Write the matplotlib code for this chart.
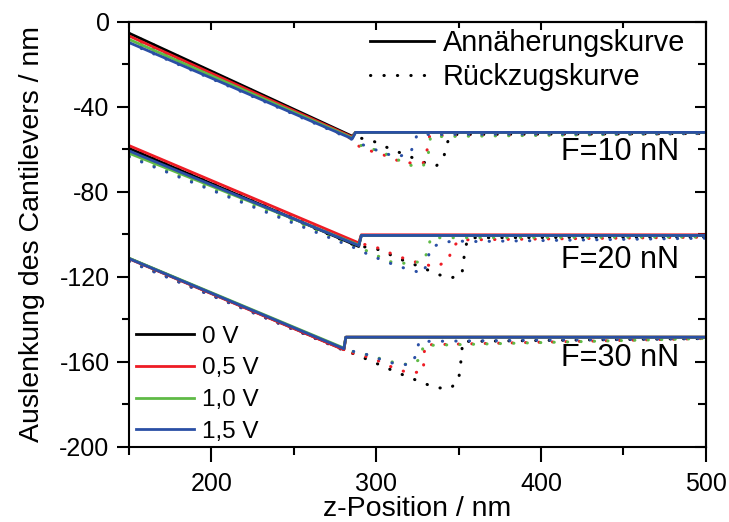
import numpy as np
import matplotlib
matplotlib.use("Agg")
import matplotlib.pyplot as plt
from matplotlib.lines import Line2D
from matplotlib.ticker import MultipleLocator

plt.rcParams['font.family'] = ['Liberation Sans', 'DejaVu Sans']
plt.rcParams['axes.unicode_minus'] = False

voltages = ['0 V', '0,5 V', '1,0 V', '1,5 V']
colors = ['#000000', '#ee1c25', '#5fba46', '#2a4fa5']
forces = ['F=10 nN', 'F=20 nN', 'F=30 nN']

# --- approach curves (Annäherung), one x grid per force
app10_x = [150, 285.5, 287.5, 500]
app10_y = [[-5.3, -53.8, -52.0, -52.0],
           [-6.6, -54.2, -52.0, -52.0],
           [-8.2, -54.6, -52.0, -52.0],
           [-9.7, -55.0, -52.0, -52.0]]

app20_x = [150, 289.4, 291, 500]
app20_y = [[-59.5, -105.7, -100.5, -100.5],
           [-58.2, -104.0, -100.2, -100.2],
           [-61.8, -105.0, -100.5, -100.5],
           [-60.7, -105.3, -100.5, -100.5]]

app30_x = [150, 280.4, 281.6, 500]
app30_y = [[-111.3, -154.2, -148.4, -148.4],
           [-111.5, -154.3, -148.4, -148.4],
           [-111.2, -153.5, -148.4, -148.4],
           [-111.4, -153.8, -148.4, -148.4]]

# --- retract curves (Rückzug)
ret10_x = [[150, 285, 296.6, 304.5, 312, 320.8, 328.6, 336.5, 341, 342.5, 345.5, 500],
           [150, 285, 288, 296.6, 304.5, 312, 320.8, 328.6, 331, 332.5, 500],
           [150, 285, 288, 296.6, 304.5, 312, 320.8, 328.6, 331.7, 333, 500],
           [150, 285, 288, 296.6, 304.5, 312, 320.8, 323.3, 325, 500]]
ret10_y = [[-5.5, -54.0, -55.5, -58.4, -60.8, -63.5, -66.0, -67.8, -64.0, -58.0, -53.0, -52.5],
           [-7.0, -55.0, -58.0, -60.7, -62.6, -65.0, -66.4, -66.4, -60.0, -53.5, -52.5],
           [-8.5, -55.0, -57.5, -59.5, -61.6, -64.5, -67.5, -67.8, -61.8, -54.0, -52.5],
           [-10.0, -55.2, -56.6, -59.3, -61.6, -63.5, -62.0, -56.0, -53.0, -52.5]]

ret20_x = [[150, 289, 296.6, 304.5, 312, 320.8, 328.6, 336.5, 345, 352, 353, 354, 356, 500],
           [150, 289, 296.6, 304.5, 312, 320.8, 328.6, 336.5, 344, 346, 351.5, 500],
           [150, 289, 296.6, 304.5, 312, 328.6, 331.7, 333, 500],
           [150, 289, 296.6, 304.5, 312, 320.8, 328.6, 331, 332.8, 339.5, 348, 356, 500]]
ret20_y = [[-60.0, -105.8, -106.0, -108.0, -110.9, -113.5, -115.8, -118.6, -120.6, -119.0, -113.0, -106.5, -101.6, -101.2],
           [-58.8, -104.5, -105.0, -107.5, -110.0, -112.3, -114.0, -115.3, -112.0, -106.0, -102.6, -101.3],
           [-63.0, -106.0, -108.5, -111.5, -113.9, -112.8, -107.0, -101.6, -101.2],
           [-63.5, -107.0, -110.0, -112.3, -114.7, -116.7, -118.4, -113.0, -106.5, -104.0, -103.0, -103.4, -101.8]]

ret30_x = [[150, 280, 288, 296.6, 304.5, 312, 320.8, 328.6, 336.5, 345, 350, 351, 352, 352.3, 500],
           [150, 280, 288, 296.6, 304.5, 312, 320.8, 328.6, 329, 329.5, 500],
           [150, 280, 288, 296.6, 304.5, 312, 320.8, 327, 328.6, 500],
           [150, 280, 288, 296.6, 304.5, 312, 320.8, 324.4, 326, 500]]
ret30_y = [[-112.5, -154.4, -156.7, -159.5, -162.2, -164.8, -167.5, -170.0, -172.2, -172.5, -168.8, -162.4, -156.3, -150.4, -149.0],
           [-112.5, -154.4, -156.5, -158.0, -160.6, -163.4, -165.3, -164.5, -158.6, -152.0, -149.0],
           [-112.3, -154.0, -155.5, -157.0, -159.0, -160.5, -161.4, -158.6, -152.3, -149.0],
           [-112.8, -154.4, -155.3, -157.0, -159.4, -161.0, -161.4, -156.7, -150.4, -149.0]]

label_x = [484, 484, 484]
label_y = [-61, -112, -158]

fig, ax = plt.subplots(figsize=(7.29, 5.22), dpi=100)
fig.subplots_adjust(left=0.177, right=0.968, bottom=0.144, top=0.958)

dots = (0, (0.1, 4.3))
for rx, ry in [(ret10_x, ret10_y), (ret20_x, ret20_y), (ret30_x, ret30_y)]:
    for i in range(4):
        ax.plot(rx[i], ry[i], color=colors[i], lw=2.2, linestyle=dots,
                dash_capstyle='round')
for axx, ayy in [(app10_x, app10_y), (app20_x, app20_y), (app30_x, app30_y)]:
    for i in range(4):
        ax.plot(axx, ayy[i], color=colors[i], lw=2.0)

for k in range(3):
    ax.text(label_x[k], label_y[k], forces[k], ha='right', va='center', fontsize=22)

ax.set_xlim(150, 500)
ax.set_ylim(-200, 0)
ax.xaxis.set_major_locator(MultipleLocator(100))
ax.xaxis.set_minor_locator(MultipleLocator(50))
ax.yaxis.set_major_locator(MultipleLocator(40))
ax.yaxis.set_minor_locator(MultipleLocator(20))
ax.tick_params(which='both', direction='out', width=1.5, labelsize=18)
ax.tick_params(axis='x', which='major', length=11, pad=7)
ax.tick_params(axis='x', which='minor', length=6)
ax.tick_params(axis='y', which='major', length=9, pad=5)
ax.tick_params(axis='y', which='minor', length=5)
for s in ax.spines.values():
    s.set_linewidth(1.5)

# inward ticks on the opposite sides
top = ax.secondary_xaxis('top')
top.xaxis.set_major_locator(MultipleLocator(100))
top.xaxis.set_minor_locator(MultipleLocator(50))
top.tick_params(which='both', direction='in', labeltop=False, width=1.5)
top.tick_params(which='major', length=6)
top.tick_params(which='minor', length=4)
right = ax.secondary_yaxis('right')
right.yaxis.set_major_locator(MultipleLocator(40))
right.yaxis.set_minor_locator(MultipleLocator(20))
right.tick_params(which='both', direction='in', labelright=False, width=1.5)
right.tick_params(which='major', length=8)
right.tick_params(which='minor', length=6)
for sec in (top, right):
    for s in sec.spines.values():
        s.set_linewidth(1.5)

ax.set_xlabel('z-Position / nm', fontsize=20.5, labelpad=0)
ax.set_ylabel('Auslenkung des Cantilevers / nm', fontsize=20.5, labelpad=10)

style_handles = [Line2D([], [], color='k', lw=2.0),
                 Line2D([], [], color='k', lw=2.2, linestyle=dots, dash_capstyle='round')]
leg1 = ax.legend(style_handles, ['Annäherungskurve', 'Rückzugskurve'],
                 loc='upper right', bbox_to_anchor=(1.009, 1.044), frameon=False,
                 fontsize=20.8, handlelength=2.2, handletextpad=0.3, labelspacing=0.2)
ax.add_artist(leg1)

volt_handles = [Line2D([], [], color=c, lw=2.0) for c in colors]
ax.legend(volt_handles, voltages, loc='lower left', bbox_to_anchor=(-0.026, -0.042),
          frameon=False, fontsize=17.5, handlelength=2.4, handletextpad=0.3,
          labelspacing=0.4)

fig.savefig('out.png', dpi=100)
